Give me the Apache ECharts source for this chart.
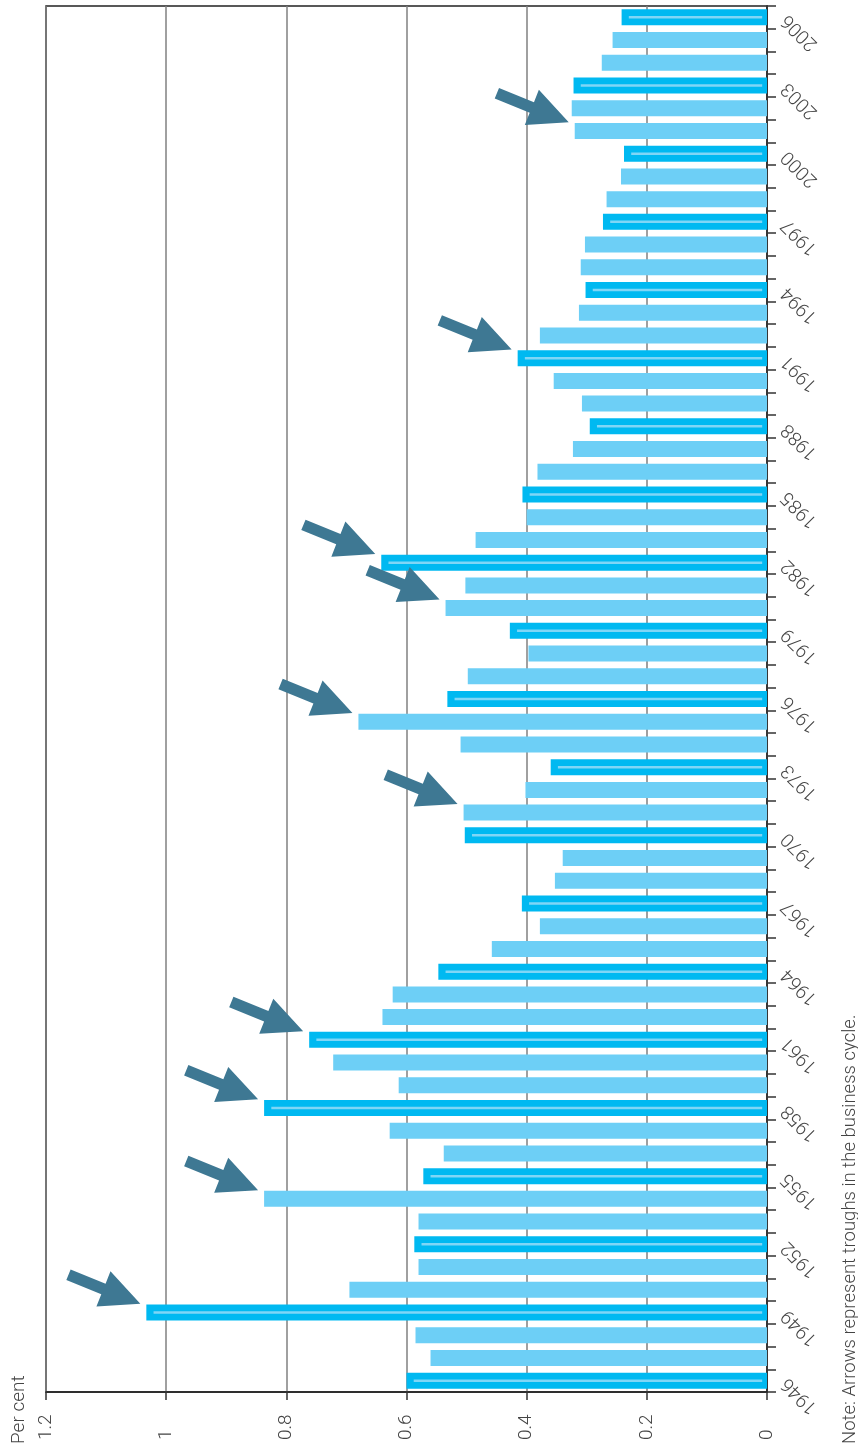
<!DOCTYPE html>
<html lang="en">
<head>
    <meta charset="UTF-8">
    <script src="https://cdn.jsdelivr.net/npm/echarts@6/dist/echarts.min.js"></script>
    <title>Per cent</title>
    <style type="text/css">
        html, body { margin: 0; padding: 0; background: #fff; }
        #chart { width: 858px; height: 1455px; }
    </style>
</head>
<body>
<div id="chart"></div>
<script type="text/javascript">
    // years on the category axis
    const years = [];
    for (let y = 1946; y <= 2006; y++) years.push(String(y));

    // value per year (per cent)
    const values = [
        0.60, 0.56, 0.585, 1.033, 0.695, 0.58, 0.587, 0.58, 0.837, 0.572,
        0.538, 0.628, 0.837, 0.613, 0.722, 0.762, 0.64, 0.623, 0.547, 0.458,
        0.378, 0.408, 0.353, 0.34, 0.503, 0.505, 0.402, 0.36, 0.51, 0.68,
        0.532, 0.498, 0.397, 0.428, 0.535, 0.502, 0.642, 0.485, 0.40, 0.407,
        0.382, 0.323, 0.295, 0.308, 0.355, 0.415, 0.378, 0.313, 0.302, 0.31,
        0.303, 0.273, 0.267, 0.243, 0.238, 0.32, 0.325, 0.322, 0.275, 0.257,
        0.242
    ];

    // years marked with an arrow (business cycle troughs)
    const troughYears = ['1949', '1954', '1958', '1961', '1971', '1975', '1980', '1982', '1991', '2001'];

    const valueTicks = [0, 0.2, 0.4, 0.6, 0.8, 1, 1.2];

    const darkBlue = '#00b9f1';
    const lightBlue = '#6dcff6';
    const arrowColor = '#3e7893';
    const labelFont = 'Roboto, "Liberation Sans", Arial, sans-serif';

    const barData = values.map(function (v, i) {
        return {
            value: v,
            itemStyle: { color: i % 3 === 0 ? darkBlue : lightBlue }
        };
    });

    const innerData = [];
    values.forEach(function (v, i) {
        if (i % 3 === 0) innerData.push([v, i]);
    });

    const arrowData = troughYears.map(function (y) {
        return [values[years.indexOf(y)], y];
    });

    const arrowPath = 'path://M4.2,0 L38.5,13.9 L43.3,1.85 L72.6,33.6 L29.5,36.15 L34.3,24.1 L0,10.2 Z';

    const myChart = echarts.init(document.getElementById('chart'));

    const option = {
        animation: false,
        grid: {
            left: 46, right: 91, top: 6, bottom: 63,
            show: true,
            borderColor: '#222',
            borderWidth: 1.5
        },
        xAxis: {
            type: 'value',
            inverse: true,
            min: valueTicks[0],
            max: valueTicks[valueTicks.length - 1],
            interval: 0.2,
            axisLine: { show: true, lineStyle: { color: '#222', width: 1.5 } },
            axisTick: { show: true, length: 8, lineStyle: { color: '#333', width: 1.5 } },
            splitLine: { show: true, lineStyle: { color: '#808080', width: 1.5 } },
            axisLabel: {
                rotate: 90,
                align: 'left',
                margin: 48,
                color: '#444',
                fontSize: 19,
                fontWeight: 300,
                fontFamily: labelFont
            }
        },
        yAxis: {
            type: 'category',
            position: 'right',
            data: years,
            axisLine: { show: true, lineStyle: { color: '#222', width: 1.5 } },
            axisTick: { show: true, length: 9, interval: 0, lineStyle: { color: '#333', width: 1.5 } },
            axisLabel: {
                interval: 2,
                rotate: 135,
                margin: 18,
                color: '#444',
                fontSize: 19,
                fontWeight: 300,
                fontFamily: labelFont
            },
            splitLine: { show: false }
        },
        series: [
            {
                type: 'bar',
                data: barData,
                barWidth: 16,
                z: 2
            },
            {
                type: 'custom',
                data: innerData,
                z: 3,
                renderItem: function (params, api) {
                    const c = api.value(1);
                    const p0 = api.coord([api.value(0) - 0.012, c]);
                    const p1 = api.coord([0.008, c]);
                    return {
                        type: 'rect',
                        shape: {
                            x: Math.min(p0[0], p1[0]),
                            y: p0[1] - 1.25,
                            width: Math.abs(p1[0] - p0[0]),
                            height: 2.5
                        },
                        style: { fill: '#7fd6f6' }
                    };
                }
            },
            {
                type: 'scatter',
                data: arrowData,
                symbol: arrowPath,
                symbolSize: [74, 37],
                symbolOffset: [-43, -24.5],
                itemStyle: { color: arrowColor, opacity: 1 },
                z: 5
            }
        ],
        graphic: [
            {
                type: 'text',
                x: 19, y: 1444,
                rotation: Math.PI / 2,
                style: {
                    text: 'Per cent',
                    fill: '#444',
                    fontSize: 19,
                    fontWeight: 300,
                    fontFamily: labelFont,
                    textAlign: 'left',
                    textVerticalAlign: 'middle'
                }
            },
            {
                type: 'text',
                x: 850, y: 1444,
                rotation: Math.PI / 2,
                style: {
                    text: 'Note: Arrows represent troughs in the business cycle.',
                    fill: '#444',
                    fontSize: 18.5,
                    fontWeight: 300,
                    fontFamily: labelFont,
                    textAlign: 'left',
                    textVerticalAlign: 'middle'
                }
            }
        ]
    };

    myChart.setOption(option);
</script>
</body>
</html>
